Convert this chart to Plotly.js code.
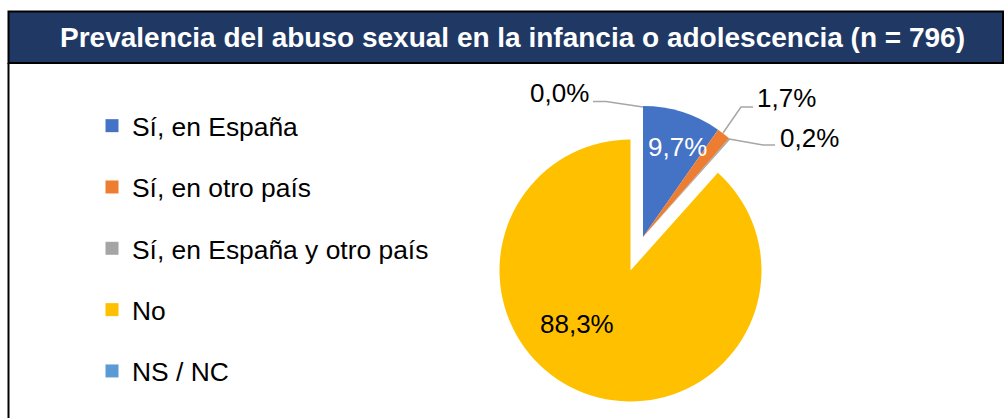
<!DOCTYPE html>
<html>
<head>
<meta charset="utf-8">
<script src="https://cdn.plot.ly/plotly-3.0.1.min.js"></script>
<style>
html,body{margin:0;padding:0;background:#fff;overflow:hidden;}
#chart{width:1005px;height:418px;}
</style>
</head>
<body>
<div id="chart"></div>
<script>
// ---- data ----
const categories = ['Sí, en España', 'Sí, en otro país', 'Sí, en España y otro país', 'No', 'NS / NC'];
const values = [9.7, 1.7, 0.2, 88.3, 0.0];
const valueLabels = ['9,7%', '1,7%', '0,2%', '88,3%', '0,0%'];
const colors = ['#4472C4', '#ED7D31', '#A5A5A5', '#FFC000', '#5B9BD5'];
const exploded = [true, true, true, false, false]; // slices pulled out as a group
const chartTitle = 'Prevalencia del abuso sexual en la infancia o adolescencia (n = 796)';

// ---- geometry helpers (pixels -> paper) ----
const W = 1005, H = 418;
const px = x => x / W;
const py = y => 1 - y / H;
const FONT = 'Liberation Sans, Arial, sans-serif';
const R = 131;
const mainC = [630.5, 270.5];   // centre of the non-exploded part
const pullC = [643, 237];       // centre of the exploded group

function pieDomain(c) {
  return { x: [px(c[0] - R), px(c[0] + R)], y: [py(c[1] + R), py(c[1] - R)] };
}
const transparent = 'rgba(0,0,0,0)';

const traces = [
  {
    type: 'pie', labels: categories, values: values, sort: false,
    direction: 'clockwise', rotation: 0, showlegend: false,
    marker: { colors: colors.map((c, i) => exploded[i] ? transparent : c), line: { width: 0 } },
    textinfo: 'none', hoverinfo: 'label+percent', domain: pieDomain(mainC)
  },
  {
    type: 'pie', labels: categories, values: values, sort: false,
    direction: 'clockwise', rotation: 0, showlegend: false,
    marker: { colors: colors.map((c, i) => exploded[i] ? c : transparent), line: { width: 0 } },
    textinfo: 'none', hoverinfo: 'label+percent', domain: pieDomain(pullC)
  }
];
// legend entries
categories.forEach((c, i) => {
  traces.push({
    type: 'scatter', mode: 'markers', x: [null], y: [null], name: c,
    legendgroup: 'g' + i, hoverinfo: 'skip',
    marker: { symbol: 'square', size: 13, color: colors[i] }
  });
});

// label positions (text placement, in pixels)
const labelPos = [
  { x: 677, y: 147, color: '#ffffff' },
  { x: 786, y: 98, color: '#000000' },
  { x: 809, y: 138, color: '#000000' },
  { x: 576.5, y: 324, color: '#000000' },
  { x: 559, y: 93, color: '#000000' }
];
const annotations = valueLabels.map((t, i) => ({
  text: t, x: px(labelPos[i].x), y: py(labelPos[i].y), xref: 'paper', yref: 'paper',
  xanchor: 'center', yanchor: 'middle', showarrow: false,
  font: { family: FONT, size: 26, color: labelPos[i].color }
}));

function pathPx(pts) {
  return pts.map((p, i) => (i ? 'L' : 'M') + px(p[0]) + ',' + py(p[1])).join(' ');
}
const leader = { type: 'path', xref: 'paper', yref: 'paper', line: { color: '#A6A6A6', width: 1.5 } };
const shapes = [
  // title bar
  { type: 'rect', xref: 'paper', yref: 'paper', x0: px(8.5), x1: px(1003), y0: py(63), y1: py(11.5),
    fillcolor: '#203864', line: { color: '#000000', width: 2 }, layer: 'below' },
  // left border of the chart area
  { type: 'line', xref: 'paper', yref: 'paper', x0: px(8.5), x1: px(8.5), y0: py(63), y1: py(420),
    line: { color: '#000000', width: 2 } },
  Object.assign({ path: pathPx([[593, 101.5], [606, 101.5], [643, 107]]) }, leader),
  Object.assign({ path: pathPx([[753, 107], [741, 107], [723, 133]]) }, leader),
  Object.assign({ path: pathPx([[775, 145], [763, 145], [729, 139]]) }, leader)
];

const layout = {
  width: W, height: H,
  margin: { l: 0, r: 0, t: 0, b: 0, pad: 0 },
  paper_bgcolor: '#ffffff', plot_bgcolor: '#ffffff',
  title: {
    text: '<b>' + chartTitle + '</b>', x: px(512.5), xanchor: 'center', y: py(37.5), yanchor: 'middle',
    xref: 'paper', yref: 'paper', font: { family: FONT, size: 28, color: '#ffffff' }
  },
  xaxis: { visible: false, range: [0, 1] },
  yaxis: { visible: false, range: [0, 1] },
  showlegend: true,
  legend: {
    x: px(92), y: py(102), xanchor: 'left', yanchor: 'top',
    traceorder: 'grouped', tracegroupgap: 24,
    font: { family: FONT, size: 26.4, color: '#000000' },
    bgcolor: 'rgba(0,0,0,0)', borderwidth: 0, itemclick: false, itemdoubleclick: false
  },
  annotations: annotations,
  shapes: shapes
};

Plotly.newPlot('chart', traces, layout, { displayModeBar: false, staticPlot: true });
</script>
</body>
</html>
